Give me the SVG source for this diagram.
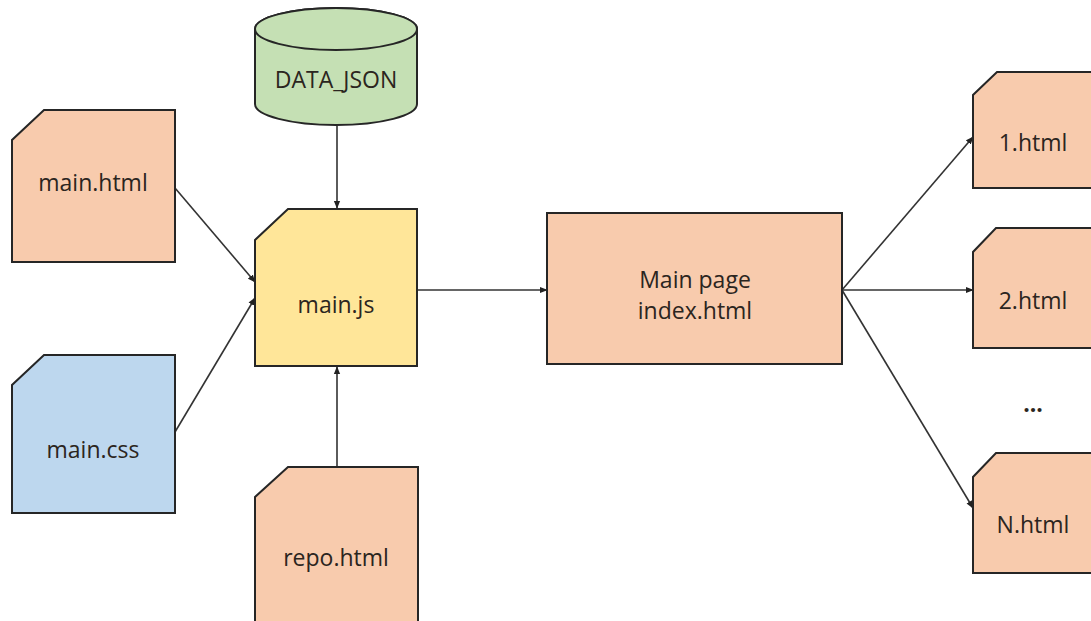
<svg xmlns="http://www.w3.org/2000/svg" width="1091" height="621" viewBox="0 0 1091 621">
  <style>
    .shape { stroke: #262626; stroke-width: 2; }
    .peach { fill: #F8CBAD; }
    .blue { fill: #BDD7EE; }
    .yellow { fill: #FFE699; }
    .green { fill: #C5E0B4; }
    .label { font-family: "Open Sans", "Noto Sans", sans-serif; font-size: 23px; fill: #2b2520; text-anchor: middle; dominant-baseline: central; }
    .edge { stroke: #333; stroke-width: 1.6; fill: none; marker-end: url(#arrow); }
  </style>
  <defs>
    <marker id="arrow" viewBox="0 0 10 10" refX="9" refY="5" markerWidth="8" markerHeight="8" orient="auto" markerUnits="userSpaceOnUse">
      <path d="M0,1 L10,5 L0,9 z" fill="#222"/>
    </marker>
  </defs>
  <rect width="1091" height="621" fill="#ffffff"/>

  <g id="connectors">
    <line class="edge" x1="337" y1="126" x2="337" y2="208"/>
    <line class="edge" x1="175" y1="188" x2="255" y2="282"/>
    <line class="edge" x1="175" y1="432" x2="255" y2="298"/>
    <line class="edge" x1="337" y1="467" x2="337" y2="367"/>
    <line class="edge" x1="417" y1="290" x2="547" y2="290"/>
    <line class="edge" x1="842" y1="290" x2="973" y2="137"/>
    <line class="edge" x1="842" y1="290" x2="973" y2="290"/>
    <line class="edge" x1="842" y1="290" x2="973" y2="508"/>
  </g>

  <g id="data-json">
    <path class="shape green" d="M255,29 L255,104 A81,21 0 0 0 417,104 L417,29 A81,21 0 0 0 255,29 Z"/>
    <ellipse class="shape green" cx="336" cy="29" rx="81" ry="21"/>
    <text class="label" x="336" y="79">DATA_JSON</text>
  </g>

  <g id="main-html">
    <path class="shape peach" d="M44,110 L175,110 L175,262 L12,262 L12,140 Z"/>
    <text class="label" x="93" y="182">main.html</text>
  </g>

  <g id="main-css">
    <path class="shape blue" d="M44,355 L175,355 L175,513 L12,513 L12,385 Z"/>
    <text class="label" x="93" y="449">main.css</text>
  </g>

  <g id="main-js">
    <path class="shape yellow" d="M288,209 L417,209 L417,366 L255,366 L255,240 Z"/>
    <text class="label" x="336" y="304">main.js</text>
  </g>

  <g id="repo-html">
    <path class="shape peach" d="M288,467 L418,467 L418,625 L255,625 L255,497 Z"/>
    <text class="label" x="336" y="557">repo.html</text>
  </g>

  <g id="index-html">
    <rect class="shape peach" x="547" y="213" width="295" height="151"/>
    <text class="label" x="695" y="279">Main page</text>
    <text class="label" x="695" y="310">index.html</text>
  </g>

  <g id="page-1">
    <path class="shape peach" d="M997,72 L1100,72 L1100,188 L973,188 L973,95 Z"/>
    <text class="label" x="1033" y="142">1.html</text>
  </g>

  <g id="page-2">
    <path class="shape peach" d="M996,228 L1100,228 L1100,348 L973,348 L973,252 Z"/>
    <text class="label" x="1033" y="300">2.html</text>
  </g>

  <g id="ellipsis">
    <text class="label" x="1033" y="403" style="font-weight:bold">...</text>
  </g>

  <g id="page-n">
    <path class="shape peach" d="M996,453 L1100,453 L1100,573 L973,573 L973,477 Z"/>
    <text class="label" x="1033" y="524">N.html</text>
  </g>
</svg>
